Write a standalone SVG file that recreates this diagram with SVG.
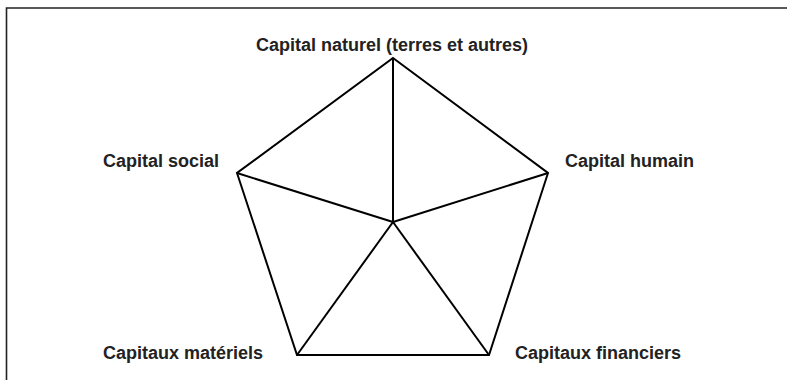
<svg xmlns="http://www.w3.org/2000/svg" width="787" height="380" viewBox="0 0 787 380">
<style>
.lbl{font-family:"Liberation Sans",Arial,sans-serif;font-weight:bold;font-size:18px;fill:#222}
.edge{stroke:#000;stroke-width:2;fill:none;stroke-linejoin:miter}
</style>
<rect width="787" height="380" fill="#fff"/>
<path d="M6.5,380 V8 H787" fill="none" stroke="#222" stroke-width="1.6"/>
<g id="connectors">
<polygon class="edge" points="393,58 548,173 489,355 297,355 237,173"/>
<line class="edge" x1="393" y1="222" x2="393" y2="58"/>
<line class="edge" x1="393" y1="222" x2="548" y2="173"/>
<line class="edge" x1="393" y1="222" x2="489" y2="355"/>
<line class="edge" x1="393" y1="222" x2="297" y2="355"/>
<line class="edge" x1="393" y1="222" x2="237" y2="173"/>
</g>
<g id="n-naturel"><text class="lbl" x="392" y="51" text-anchor="middle">Capital naturel (terres et autres)</text></g>
<g id="n-social"><text class="lbl" x="103" y="167">Capital social</text></g>
<g id="n-humain"><text class="lbl" x="565" y="167">Capital humain</text></g>
<g id="n-materiels"><text class="lbl" x="103" y="359">Capitaux matériels</text></g>
<g id="n-financiers"><text class="lbl" x="515" y="359">Capitaux financiers</text></g>
</svg>
